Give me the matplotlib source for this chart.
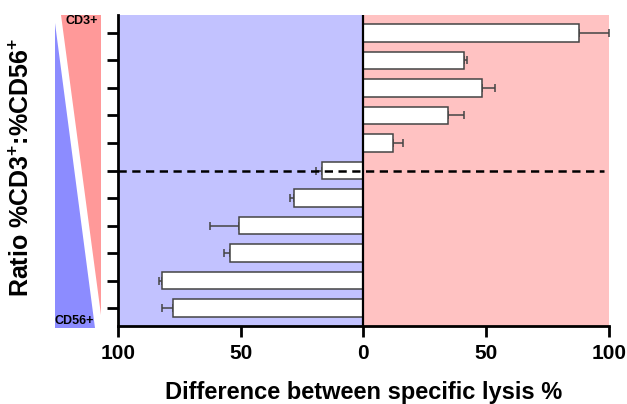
import numpy as np
import matplotlib.pyplot as plt
from matplotlib.patches import Polygon

plt.rcParams['font.family'] = ['Liberation Sans', 'DejaVu Sans']
plt.rcParams['mathtext.fontset'] = 'custom'
plt.rcParams['mathtext.bf'] = 'Liberation Sans:bold'
plt.rcParams['mathtext.rm'] = 'Liberation Sans'

# Bars from top (CD3+ rich) to bottom (CD56+ rich)
diff_values = [88.0, 41.1, 48.3, 34.7, 12.0, -16.7, -28.2, -50.6, -54.4, -82.0, -77.6]
diff_errors = [12.0, 1.0, 5.2, 6.3, 4.1, 2.6, 1.6, 11.7, 2.3, 1.1, 4.3]
xtick_values = [-100, -50, 0, 50, 100]
xtick_labels = ["100", "50", "0", "50", "100"]
reference_row = 5  # dashed line row (counted from top)

n = len(diff_values)
ypos = np.arange(n)[::-1]
vals = np.array(diff_values)
errs = np.array(diff_errors)

fig = plt.figure(figsize=(6.27, 4.04), dpi=100)
ax = fig.add_axes([118 / 627, 1 - 326 / 404, (608.7 - 118) / 627, (326 - 15) / 404])

# coloured halves
ax.axvspan(-100, 0, color="#c2c2ff", lw=0, zorder=0)
ax.axvspan(0, 100, color="#ffc2c2", lw=0, zorder=0)

ax.barh(ypos, vals, height=0.63, color="white", edgecolor="#444444", lw=1.1, zorder=3)
# one-sided error bars pointing away from zero
xerr = np.vstack([np.where(vals < 0, errs, 0), np.where(vals > 0, errs, 0)])
ax.errorbar(vals, ypos, xerr=xerr, fmt="none", ecolor="#444444", elinewidth=1.1,
            capsize=3, capthick=1.1, zorder=2)

ax.axvline(0, color="black", lw=1.6, zorder=4)
ax.plot([-100, 98], [ypos[reference_row]] * 2, color="black", lw=1.8,
        ls=(0, (3.3, 2.2)), zorder=5)

ax.set_xlim(-100, 100)
ax.set_ylim(-0.65, n - 0.35)
ax.set_xticks(xtick_values)
ax.set_xticklabels(xtick_labels, fontsize=15, fontweight="bold")
ax.set_yticks(ypos)
ax.set_yticklabels([])
ax.tick_params(axis="both", direction="out", length=8, width=2, color="black")
ax.tick_params(axis="x", pad=5)
for s in ["top", "right"]:
    ax.spines[s].set_visible(False)
for s in ["left", "bottom"]:
    ax.spines[s].set_linewidth(2)
ax.set_xlabel("Difference between specific lysis %", fontsize=17, fontweight="bold",
              labelpad=13)

# ratio wedges on the left, drawn in pixel coordinates
deco = fig.add_axes([0, 0, 1, 1], zorder=-1)
deco.set_xlim(0, 627)
deco.set_ylim(404, 0)
deco.axis("off")
deco.add_patch(Polygon([[55, 23], [55, 328], [94.5, 328]], closed=True,
                       color="#8c8cff", lw=0))
deco.add_patch(Polygon([[60.5, 14.5], [101, 14.5], [101, 315]], closed=True,
                       color="#ff9999", lw=0))
deco.text(81.5, 21.5, "CD3+", fontsize=9, fontweight="bold", ha="center", va="center")
deco.text(74.5, 320.5, "CD56+", fontsize=9, fontweight="bold", ha="center", va="center")

fig.text(22 / 627, 1 - 167 / 404, r"Ratio %CD3$^{\mathbf{+}}$:%CD56$^{\mathbf{+}}$",
         rotation=90, fontsize=18, fontweight="bold", ha="center", va="center")

fig.savefig("out.png", dpi=100)
